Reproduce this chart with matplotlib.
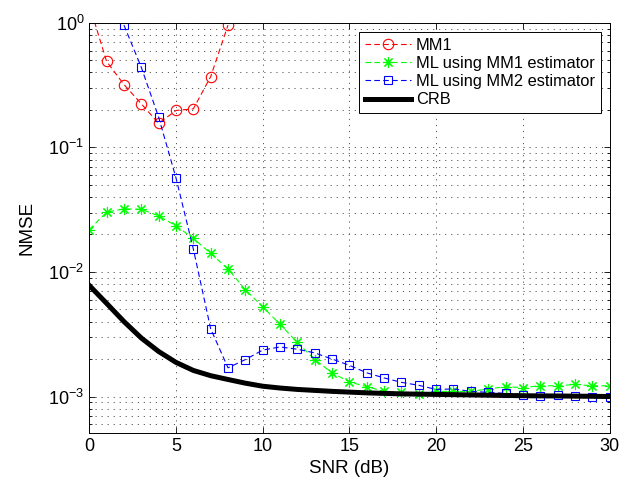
import matplotlib

matplotlib.use("Agg")
import matplotlib.pyplot as plt
from matplotlib.ticker import LogLocator, NullFormatter, MultipleLocator

# NMSE vs SNR
snr = list(range(0, 31))

mm1_snr = [0, 1, 2, 3, 4, 5, 6, 7, 8]
mm1 = [1.4, 0.49, 0.32, 0.224, 0.156, 0.198, 0.204, 0.37, 0.96]

ml_mm1 = [
    0.0219, 0.0302, 0.0321, 0.0319, 0.0282, 0.0235, 0.0186, 0.0141, 0.0106, 7.2e-3,
    5.26e-3, 3.8e-3, 2.72e-3, 1.98e-3, 1.55e-3, 1.31e-3, 1.20e-3, 1.10e-3, 1.08e-3, 1.05e-3,
    1.10e-3, 1.10e-3, 1.10e-3, 1.15e-3, 1.20e-3, 1.18e-3, 1.22e-3, 1.22e-3, 1.25e-3, 1.22e-3,
    1.22e-3,
]

ml_mm2_snr = list(range(2, 31))
ml_mm2 = [
    0.96, 0.44, 0.175, 0.057, 0.0153, 3.5e-3, 1.7e-3, 1.98e-3, 2.36e-3, 2.5e-3,
    2.4e-3, 2.24e-3, 2.0e-3, 1.78e-3, 1.55e-3, 1.41e-3, 1.30e-3, 1.23e-3, 1.14e-3, 1.15e-3,
    1.10e-3, 1.08e-3, 1.06e-3, 1.03e-3, 1.01e-3, 1.03e-3, 1.01e-3, 1.0e-3, 1.0e-3,
]

crb = [
    7.8e-3, 5.6e-3, 4.0e-3, 2.95e-3, 2.3e-3, 1.88e-3, 1.62e-3, 1.47e-3, 1.37e-3, 1.28e-3,
    1.21e-3, 1.17e-3, 1.14e-3, 1.12e-3, 1.10e-3, 1.085e-3, 1.07e-3, 1.06e-3, 1.05e-3, 1.045e-3,
    1.04e-3, 1.035e-3, 1.03e-3, 1.025e-3, 1.02e-3, 1.015e-3, 1.012e-3, 1.01e-3, 1.007e-3, 1.004e-3,
    1.0e-3,
]

plt.rcParams["font.family"] = ["Liberation Sans", "DejaVu Sans"]
plt.rcParams["mathtext.fontset"] = "custom"
plt.rcParams["mathtext.rm"] = "Liberation Sans"
plt.rcParams["mathtext.it"] = "Liberation Sans:italic"

fig = plt.figure(figsize=(6.33, 4.87), dpi=100)
ax = fig.add_axes([0.141, 0.111, 0.822, 0.842])

ax.plot(mm1_snr, mm1, color="#ff0000", linestyle=(0, (5, 3)), linewidth=0.8,
        marker="o", markersize=7.5, markerfacecolor="none", markeredgewidth=0.8, label="MM1")
ax.plot(snr, ml_mm1, color="#00ff00", linestyle=(0, (5, 3)), linewidth=0.8,
        marker=(8, 2, 0), markersize=8, markeredgewidth=0.8, label="ML using MM1 estimator")
ax.plot(ml_mm2_snr, ml_mm2, color="#0000ff", linestyle=(0, (5, 3)), linewidth=0.8,
        marker="s", markersize=6, markerfacecolor="none", markeredgewidth=0.8,
        label="ML using MM2 estimator")
ax.plot(snr, crb, color="black", linewidth=3.6, label="CRB")

ax.set_yscale("log")
ax.set_xlim(0, 30)
ax.set_ylim(5.1e-4, 1)
ax.xaxis.set_major_locator(MultipleLocator(5))
ax.yaxis.set_major_locator(LogLocator(base=10, numticks=10))
ax.yaxis.set_minor_locator(LogLocator(base=10, subs=range(2, 10), numticks=20))
ax.yaxis.set_minor_formatter(NullFormatter())

grid_style = dict(color="0.35", linestyle=(0, (1.2, 5)), linewidth=0.7)
ax.grid(True, which="major", axis="both", **grid_style)
ax.grid(True, which="minor", axis="y", **grid_style)

ax.tick_params(which="both", direction="in", top=True, right=True, labelsize=13)
ax.tick_params(which="major", length=4, width=0.6)
ax.tick_params(which="minor", length=2.2, width=0.6)
for s in ax.spines.values():
    s.set_linewidth(0.7)

ax.set_xlabel("SNR (dB)", fontsize=13.5, labelpad=4)
ax.set_ylabel("NMSE", fontsize=13.5, labelpad=9)

leg = ax.legend(loc="upper right", fontsize=11.8, fancybox=False, framealpha=1,
                edgecolor="black", handlelength=2.8, handletextpad=0.3,
                labelspacing=0.2, borderpad=0.35, borderaxespad=0.55, numpoints=1)
leg.get_frame().set_linewidth(0.7)

fig.savefig("out.png", dpi=100)
